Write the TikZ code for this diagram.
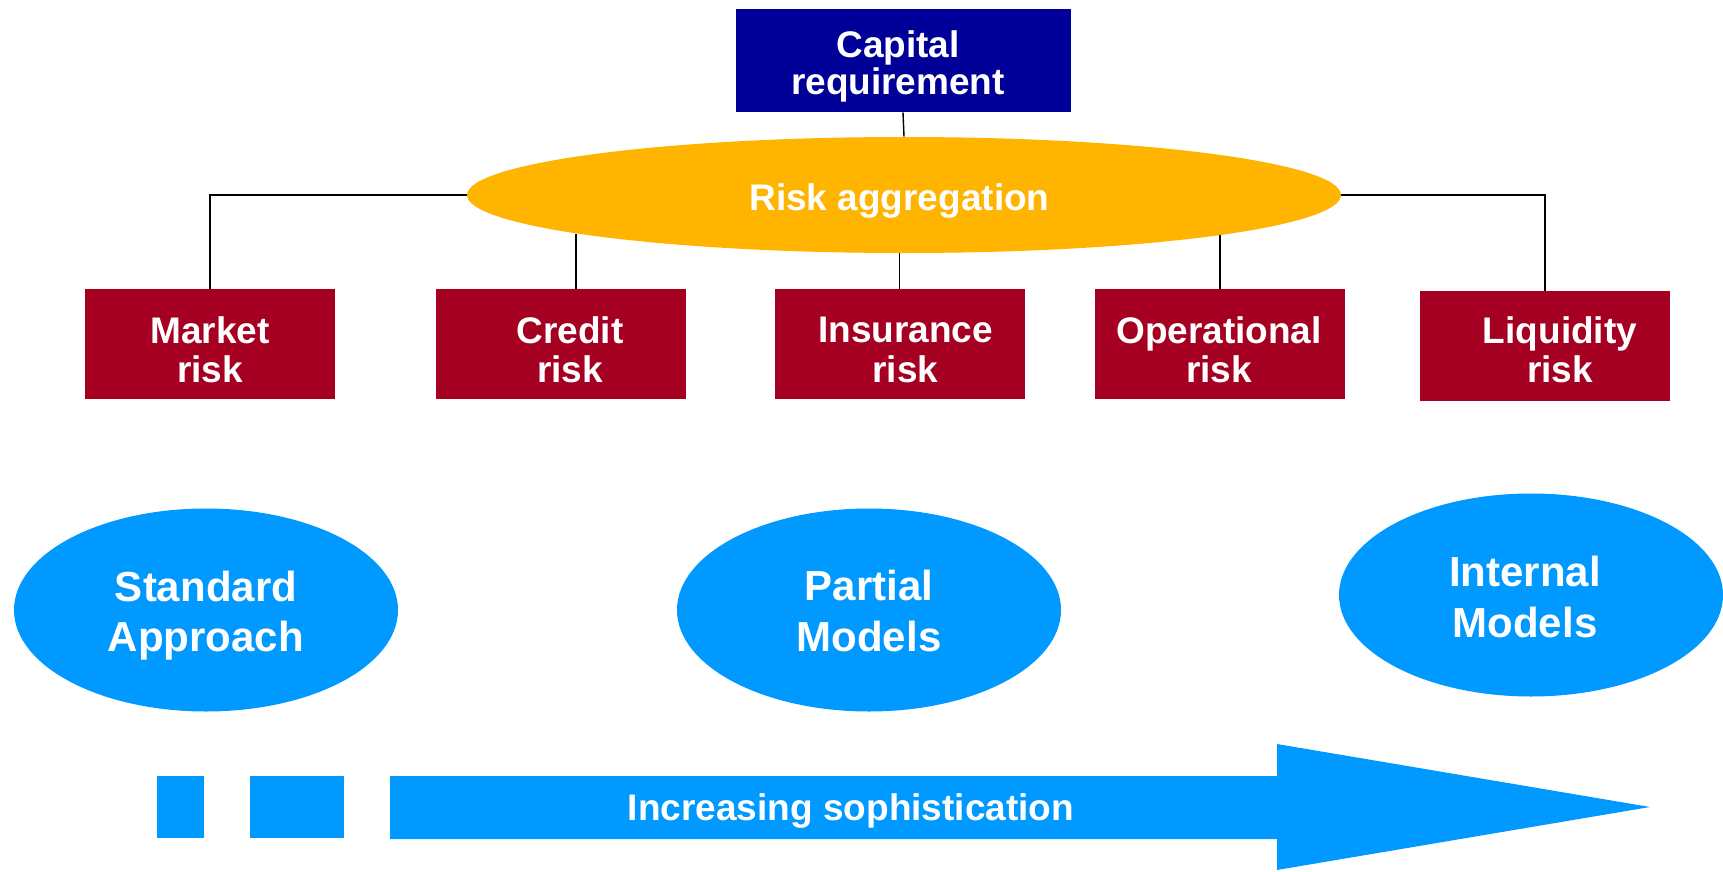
\documentclass[tikz,border=0pt]{standalone}
\usepackage{fontspec}
\setmainfont{Liberation Sans}
\usetikzlibrary{shapes.geometric}
\definecolor{capblue}{HTML}{000099}
\definecolor{riskred}{HTML}{A50021}
\definecolor{aggorange}{HTML}{FFB400}
\definecolor{approachblue}{HTML}{0099FF}
\begin{document}
\begin{tikzpicture}[x=0.5pt,y=-0.5pt,
  lbl/.style={text=white, font=\bfseries\fontsize{18.5}{19.75}\selectfont, align=center, inner sep=0pt},
  biglbl/.style={lbl, font=\bfseries\fontsize{21}{25.25}\selectfont},
  riskbox/.style={fill=riskred, minimum width=125pt, minimum height=55pt, inner sep=0pt},
  bigoval/.style={ellipse, fill=approachblue, minimum width=192pt, minimum height=101.5pt, inner sep=0pt},
  link/.style={draw=black, line width=0.7pt}
]
\useasboundingbox (0,0) rectangle (1723,872);

% top of the hierarchy
\node[fill=capblue, minimum width=167.5pt, minimum height=51.5pt, inner sep=0pt] (cap) at (903,60.5) {};
\node[lbl, font=\bfseries\fontsize{18.5}{16}\selectfont] (capt) at ([shift={(-5,6)}]cap.center) {Capital\\requirement};
\node[ellipse, fill=aggorange, minimum width=437pt, minimum height=58pt, inner sep=0pt] (agg) at (904,195) {};
\node[lbl] (aggt) at ([shift={(-4.5,6)}]agg.center) {Risk aggregation};

% risk categories
\node[riskbox] (market) at (210,344) {};
\node[riskbox] (credit) at (561,344) {};
\node[riskbox] (ins)    at (899.5,344) {};
\node[riskbox] (op)     at (1220,344) {};
\node[riskbox] (liq)    at (1545,346) {};

\node[lbl] (markett) at ([shift={(0,6)}]market.center) {Market\\risk};
\node[lbl] (creditt) at ([shift={(9,6)}]credit.center) {Credit\\risk};
\node[lbl] (inst)    at ([shift={(6,6)}]ins.center)    {Insurance\\risk};
\node[lbl] (opt)     at ([shift={(-1,6)}]op.center)    {Operational\\risk};
\node[lbl] (liqt)    at ([shift={(15,4)}]liq.center)   {Liquidity\\risk};

% connectors
\coordinate (cj) at (576,233.5);
\coordinate (oj) at (1220,235);
\draw[link] (cap.south) -- (agg.north);
\draw[link] (agg.west) -| (market.north);
\draw[link] (agg.east) -| (liq.north);
\draw[link] (cj) -- (cj |- credit.north);
\draw[link] (ins.north |- agg.south) -- (ins.north);
\draw[link] (oj) -- (oj |- op.north);

% modelling approaches
\node[bigoval] (std)  at (206,610) {};
\node[bigoval] (part) at (869,610) {};
\node[bigoval] (intm) at (1531,595) {};
\node[biglbl] (stdt)  at ([shift={(0,5.5)}]std.center)  {Standard\\Approach};
\node[biglbl] (partt) at ([shift={(0,1)}]part.center)   {Partial\\Models};
\node[biglbl] (intmt) at ([shift={(-6,2)}]intm.center)  {Internal\\Models};

% sophistication arrow
\fill[approachblue] (157,776) rectangle (204,838);
\fill[approachblue] (250,776) rectangle (344,838);
\fill[approachblue] (390,776) -- (1277,776) -- (1277,744) -- (1650,807)
  -- (1277,870) -- (1277,839) -- (390,839) -- cycle;
\node[lbl] (soph) at (851,811) {Increasing sophistication};
\end{tikzpicture}
\end{document}
